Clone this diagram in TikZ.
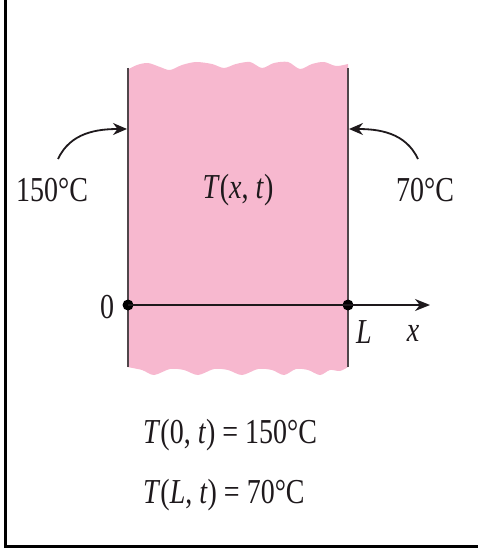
\documentclass[tikz,border=0pt]{standalone}
\usepackage{fontspec}
\setmainfont{Liberation Serif}
\usepackage{graphicx}
\usetikzlibrary{arrows.meta}
\definecolor{slabpink}{RGB}{247,184,207}
\definecolor{edgegray}{RGB}{80,70,75}
\definecolor{inkdark}{RGB}{30,25,28}
\tikzset{
  lbl/.style={inner sep=0pt, text=inkdark, font=\fontsize{35}{40}\selectfont},
  heatarrow/.style={line width=1.8pt, draw=inkdark, -{Stealth[length=14pt,width=12pt]}},
  wall/.style={line width=1.3pt, draw=edgegray},
  dotmark/.style={circle, fill=black, inner sep=0pt, minimum size=11pt},
}
\newcommand{\sq}[1]{\scalebox{0.8}[1]{#1}}
\begin{document}
\begin{tikzpicture}[x=1pt,y=-1pt]
\useasboundingbox (0,0) rectangle (478,548);
% frame
\draw[line width=2.5pt] (5.5,0) -- (5.5,546.5) -- (478,546.5);
% pink slab with wavy top and bottom
\fill[slabpink] plot[smooth] coordinates {(127,70) (137,65) (148,63) (160,67) (170,70) (182,65) (196,62) (212,64) (224,68) (236,64) (250,62) (262,68) (274,63) (288,62) (300,69) (312,64) (324,62) (336,66) (348,64)}
  -- (348,367)
  -- plot[smooth] coordinates {(348,367) (340,371) (330,370) (320,375) (308,370) (296,369) (284,375) (272,370) (258,369) (242,375) (228,370) (214,369) (198,375) (184,370) (170,369) (154,375) (142,370) (127,367)}
  -- cycle;
% walls
\coordinate (lt) at (128,68);
\coordinate (lb) at (128,367);
\coordinate (rt) at (348,68);
\coordinate (rb) at (348,367);
\draw[wall] (lt) -- (lb);
\draw[wall] (rt) -- (rb);
% labels
\node[lbl] (tl) at (52,190) {\sq{150°C}};
\node[lbl] (tr) at (425,190) {\sq{70°C}};
\node[lbl] (txt) at (238,190) {\sq{\textit{T}(\textit{x}, \textit{t})}};
% heat arrows
\coordinate (la0) at (58,159);
\coordinate (la1) at (127,129);
\coordinate (ra0) at (418,159);
\coordinate (ra1) at (349,129);
\draw[heatarrow] (la0) to[out=65,in=180] (la1);
\draw[heatarrow] (ra0) to[out=115,in=0] (ra1);
% axis
\node[dotmark] (d0) at (128,305) {};
\node[dotmark] (dL) at (348,305) {};
\coordinate (axend) at (430,305);
\draw[line width=2pt, draw=inkdark] (d0.center) -- (dL.center);
\draw[line width=1.8pt, draw=inkdark, -{Stealth[length=15pt,width=12pt]}] (dL.center) -- (axend);
\node[lbl] (zero) at (107,307) {\sq{0}};
\node[lbl] (Llab) at (364,332) {\sq{\textit{L}}};
\node[lbl] (xlab) at (413,333) {\sq{\textit{x}}};
% boundary conditions
\node[lbl, anchor=west] (bc1) at (143,435) {\sq{\textit{T}(0, \textit{t}) = 150°C}};
\node[lbl, anchor=west] (bc2) at (143,495) {\sq{\textit{T}(\textit{L}, \textit{t}) = 70°C}};
\end{tikzpicture}
\end{document}
